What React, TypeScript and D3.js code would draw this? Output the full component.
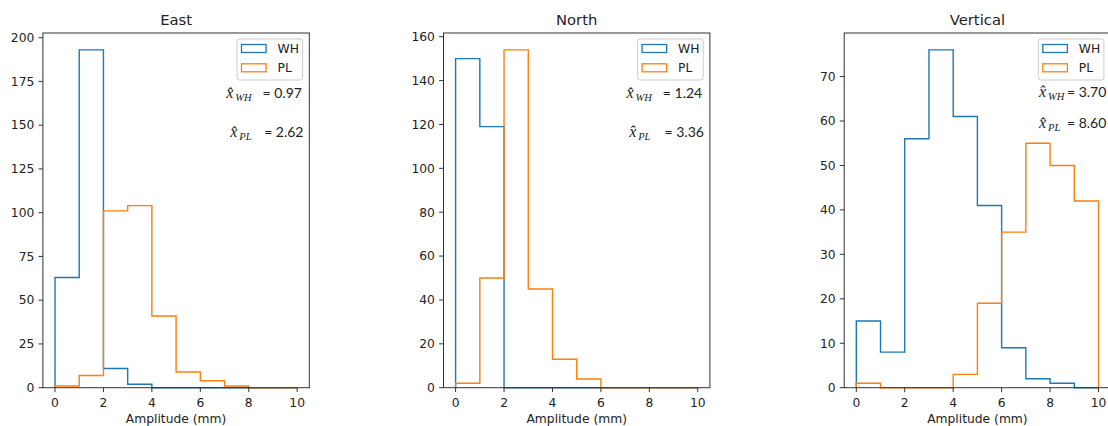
import React from "react";
import * as d3 from "d3";

// ---- data ----
const panels = ["East", "North", "Vertical"];
const binEdges = [0, 1, 2, 3, 4, 5, 6, 7, 8, 9, 10];
const whEast = [63, 193, 11, 2, 0, 0, 0, 0, 0, 0];
const plEast = [1, 7, 101, 104, 41, 9, 4, 1, 0, 0];
const whNorth = [150, 119, 0, 0, 0, 0, 0, 0, 0, 0];
const plNorth = [2, 50, 154, 45, 13, 4, 0, 0, 0, 0];
const whVertical = [15, 8, 56, 76, 61, 41, 9, 2, 1, 0];
const plVertical = [1, 0, 0, 0, 3, 19, 35, 55, 50, 42];
const meanWH = ["0.97", "1.24", "3.70"];
const meanPL = ["2.62", "3.36", "8.60"];
const yTicksEast = [0, 25, 50, 75, 100, 125, 150, 175, 200];
const yTicksNorth = [0, 20, 40, 60, 80, 100, 120, 140, 160];
const yTicksVertical = [0, 10, 20, 30, 40, 50, 60, 70];
const xTicks = [0, 2, 4, 6, 8, 10];
const seriesNames = ["WH", "PL"];
const xLabel = "Amplitude (mm)";

// ---- layout / style ----
const W = 1108;
const H = 426;
const panelLeft = [42.9, 443.5, 844.2];
const axW = 266.4;
const axTop = 33;
const axBottom = 387.7;
const colors = ["#1f77b4", "#ff7f0e"];
const textColor = "#222";
const fs = 12.3;
const font = "'DejaVu Sans', sans-serif";
// annotation offsets relative to axes right edge (hat start, value end, baseline)
const annotLayout = [
  { whHat: -83, whEnd: -7.4, whY: 98, plHat: -79, plEnd: -5.8, plY: 137 },
  { whHat: -83.3, whEnd: -7.7, whY: 98, plHat: -80.7, plEnd: -6, plY: 136.7 },
  { whHat: -71.5, whEnd: -4.3, whY: 96.7, plHat: -71.5, plEnd: -4.3, plY: 128 },
];

const panelData = [
  { wh: whEast, pl: plEast, yTicks: yTicksEast },
  { wh: whNorth, pl: plNorth, yTicks: yTicksNorth },
  { wh: whVertical, pl: plVertical, yTicks: yTicksVertical },
];

function stepPoints(values: number[]): [number, number][] {
  const pts: [number, number][] = [[binEdges[0], 0]];
  values.forEach((v, i) => {
    pts.push([binEdges[i], v]);
    pts.push([binEdges[i + 1], v]);
  });
  pts.push([binEdges[binEdges.length - 1], 0]);
  return pts;
}

function MathLabel({ x, y, sub }: { x: number; y: number; sub: string }) {
  return (
    <g fontFamily="'Liberation Serif', serif" fontStyle="italic" fill={textColor}>
      <text x={x} y={y} fontSize={16}>
        {"x\u0302"}
      </text>
      <text x={x + 9} y={y + 3} fontSize={10.5}>
        {sub}
      </text>
    </g>
  );
}

function Panel({ idx }: { idx: number }) {
  const d = panelData[idx];
  const left = panelLeft[idx];
  const right = left + axW;
  const ymax = d3.max([...d.wh, ...d.pl]) as number;
  const x = d3.scaleLinear().domain([-0.5, 10.5]).range([left, right]);
  const y = d3.scaleLinear().domain([0, ymax * 1.05]).range([axBottom, axTop]);
  const line = d3
    .line<[number, number]>()
    .x((p) => x(p[0]))
    .y((p) => y(p[1]));
  const a = annotLayout[idx];
  const cx = (left + right) / 2;
  const legW = 65.6;
  const legX = right - 6.7 - legW;
  const legY = axTop + 6;
  return (
    <g>
      <text x={cx} y={25} textAnchor="middle" fontSize={14.8} fontFamily={font} fill={textColor}>
        {panels[idx]}
      </text>
      {[d.wh, d.pl].map((vals, si) => (
        <path
          key={si}
          d={line(stepPoints(vals)) || ""}
          fill="none"
          stroke={colors[si]}
          strokeWidth={1.4}
          strokeLinejoin="miter"
        />
      ))}
      {/* spines */}
      <rect x={left} y={axTop} width={axW} height={axBottom - axTop} fill="none" stroke="#333" strokeWidth={1} />
      {/* y ticks */}
      {d.yTicks.map((t) => (
        <g key={"y" + t}>
          <line x1={left - 4.4} x2={left} y1={y(t)} y2={y(t)} stroke="#333" strokeWidth={1} />
          <text x={left - 8.6} y={y(t)} dy="0.35em" textAnchor="end" fontSize={fs} fontFamily={font} fill={textColor}>
            {t}
          </text>
        </g>
      ))}
      {/* x ticks */}
      {xTicks.map((t) => (
        <g key={"x" + t}>
          <line x1={x(t)} x2={x(t)} y1={axBottom} y2={axBottom + 4.4} stroke="#333" strokeWidth={1} />
          <text x={x(t)} y={407} textAnchor="middle" fontSize={fs} fontFamily={font} fill={textColor}>
            {t}
          </text>
        </g>
      ))}
      <text x={cx} y={423} textAnchor="middle" fontSize={fs} fontFamily={font} fill={textColor}>
        {xLabel}
      </text>
      {/* legend */}
      <rect x={legX} y={legY} width={legW} height={41} rx={2.5} fill="white" fillOpacity={0.8} stroke="#ccc" strokeWidth={1} />
      {seriesNames.map((n, si) => {
        const cy = legY + 9.5 + si * 19.3;
        return (
          <g key={n}>
            <rect x={legX + 4.5} y={cy - 4} width={24.6} height={8} fill="none" stroke={colors[si]} strokeWidth={1.3} />
            <text x={legX + 40.5} y={cy} dy="0.36em" fontSize={fs} fontFamily={font} fill={textColor}>
              {n}
            </text>
          </g>
        );
      })}
      {/* annotations */}
      <MathLabel x={right + a.whHat} y={a.whY} sub="WH" />
      <text x={right + a.whEnd} y={a.whY} textAnchor="end" fontSize={14} fontFamily="Lato, sans-serif" fill={textColor}>
        {"= " + meanWH[idx]}
      </text>
      <MathLabel x={right + a.plHat} y={a.plY} sub="PL" />
      <text x={right + a.plEnd} y={a.plY} textAnchor="end" fontSize={14} fontFamily="Lato, sans-serif" fill={textColor}>
        {"= " + meanPL[idx]}
      </text>
    </g>
  );
}

export default function App() {
  return (
    <svg
      width={W}
      height={H}
      style={{ position: "absolute", left: 0, top: 0, display: "block", background: "white" }}
    >
      <rect width={W} height={H} fill="white" />
      {panels.map((_, i) => (
        <Panel key={i} idx={i} />
      ))}
    </svg>
  );
}
